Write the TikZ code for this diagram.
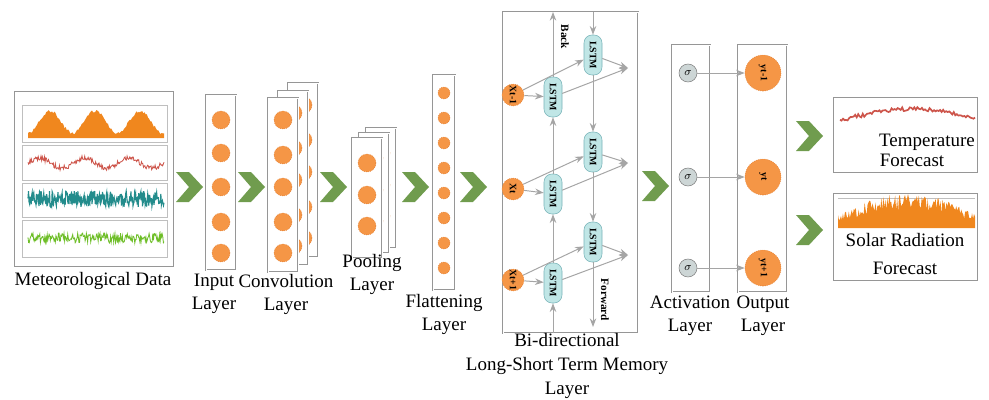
\documentclass[tikz,border=0pt]{standalone}
\usepackage{fontspec}
\setmainfont{Liberation Serif}
\usetikzlibrary{arrows.meta}

\definecolor{chevgreen}{RGB}{112,156,78}
\definecolor{dotorange}{RGB}{245,150,70}
\definecolor{dotedge}{RGB}{222,118,40}
\definecolor{boxgray}{RGB}{150,150,150}
\definecolor{lstmfill}{RGB}{192,230,230}
\definecolor{lstmedge}{RGB}{120,180,185}
\definecolor{sigfill}{RGB}{205,214,214}
\definecolor{arrgray}{RGB}{165,165,165}
\definecolor{tempred}{RGB}{205,85,75}
\definecolor{waveteal}{RGB}{35,140,140}
\definecolor{wavegreen}{RGB}{110,190,40}
\definecolor{solarorange}{RGB}{240,135,30}

\begin{document}
\begin{tikzpicture}[x=0.25mm, y=-0.25mm, >=Stealth,
  font=\fontsize{13.5}{16.4}\selectfont,
  layerbox/.style={draw=boxgray, double=white, double distance=0.6pt, line width=0.5pt, fill=white, inner sep=0pt},
  dot/.style={circle, fill=dotorange, draw=dotedge, densely dotted, minimum size=4.5mm, inner sep=0pt},
  smalldot/.style={dot, minimum size=3mm},
  xdot/.style={dot, minimum size=5.5mm, rotate=-90, font=\fontsize{7}{8}\selectfont\bfseries},
  ydot/.style={dot, minimum size=9mm, rotate=-90, font=\fontsize{7}{8}\selectfont\bfseries},
  lstm/.style={draw=lstmedge, fill=lstmfill, rounded corners=2mm, minimum width=10mm, minimum height=4.5mm,
    inner sep=0pt, rotate=-90, font=\fontsize{7}{8}\selectfont\bfseries},
  sig/.style={circle, draw=gray, fill=sigfill, minimum size=4.5mm, inner sep=0pt, font=\footnotesize},
  link/.style={->, draw=arrgray, line width=0.7pt},
  panel/.style={draw=gray!50, line width=0.4pt},
  chev/.pic={\fill[chevgreen] (-14,-15) -- (-1,-15) -- (13,0) -- (-1,15) -- (-14,15) -- (-1,0) -- cycle;}]
  \useasboundingbox (0,0) rectangle (989,399);
  \pgfmathsetseed{7}

  % meteorological data
  \node[draw=boxgray, line width=0.6pt, minimum width=39.75mm, minimum height=43.75mm] (met) at (93.5,179) {};
  \draw[panel] (22,105) rectangle (167,142);
  \draw[panel] (22,145) rectangle (167,180);
  \draw[panel] (22,183) rectangle (167,217);
  \draw[panel] (22,220) rectangle (167,257);
  \fill[solarorange] (28,138) -- plot[domain=28:164, samples=120] (\x,{122-11*cos((\x-50)*8)+1.5*rand}) -- (164,138) -- cycle;
  \draw[tempred, line width=0.6pt] plot[domain=28:164, samples=200] (\x,{163-5*sin((\x-28)*8)+2.5*rand});
  \draw[waveteal, line width=0.8pt] plot[domain=28:164, samples=260] (\x,{199+8*rand});
  \draw[wavegreen, line width=0.6pt] plot[domain=28:164, samples=220] (\x,{238+5*rand});
  \node (metlbl) at (93,281) {Meteorological Data};

  % green arrows between stages
  \foreach \cx/\cy in {190/187, 252/187, 334/187, 416/187, 474/187, 656/186, 810/136, 810/230}
    \pic at (\cx,\cy) {chev};

  % input layer
  \node[layerbox, minimum width=7.5mm, minimum height=43.75mm] (inp) at (221,182.5) {};
  \foreach \y [count=\i] in {120,153,187,222,253}
    \node[dot] (in\i) at (221,\y) {};
  \node[align=center] (inplbl) at (214,294) {Input\\Layer};

  % convolution layer (three maps)
  \foreach \dx/\dy/\nm in {20/-15/cb, 10/-7/cm, 0/0/cf} {
    \node[layerbox, minimum width=7.5mm, minimum height=43.5mm] (\nm) at (283+\dx,185+\dy) {};
    \foreach \y [count=\i] in {120,155,187,222,253}
      \node[dot] (\nm\i) at (283+\dx,\y+\dy) {};
  }
  \node[align=center] (convlbl) at (286,294) {Convolution\\Layer};

  % pooling layer
  \foreach \dx/\dy/\nm in {14/-10/pb, 7/-5/pm, 0/0/pf} {
    \node[layerbox, minimum width=7.5mm, minimum height=30mm] (\nm) at (367+\dx,198+\dy) {};
    \foreach \y [count=\i] in {163,195,226}
      \node[dot] (\nm\i) at (367+\dx,\y+\dy) {};
  }
  \node[align=center] (poollbl) at (372,274) {Pooling\\Layer};

  % flattening layer
  \node[layerbox, minimum width=5.5mm, minimum height=53.75mm] (flat) at (444,182.5) {};
  \foreach \i in {1,...,8}
    \node[smalldot] (fl\i) at (444,68+25*\i) {};
  \node[align=center] (flatlbl) at (444,314) {Flattening\\Layer};

  % bi-directional lstm
  \node[layerbox, minimum width=33.75mm, minimum height=80.25mm] (bil) at (570.5,172.5) {};
  \node[align=center, font=\fontsize{13.5}{17.2}\selectfont] (bilbl) at (567,366) {Bi-directional\\Long-Short Term Memory\\Layer};
  \node[xdot] (x1) at (513,95) {Xt-1};
  \node[xdot] (x2) at (513,189) {Xt};
  \node[xdot] (x3) at (513,280) {Xt+1};
  \node[lstm] (b1) at (553,97) {LSTM};
  \node[lstm] (b2) at (553,194) {LSTM};
  \node[lstm] (b3) at (553,283) {LSTM};
  \node[lstm] (f1) at (593,55) {LSTM};
  \node[lstm] (f2) at (593,152) {LSTM};
  \node[lstm] (f3) at (593,242) {LSTM};
  \coordinate (btop) at (553,12);
  \coordinate (bbot) at (553,333);
  \coordinate (ftop) at (593,12);
  \coordinate (fbot) at (593,327);
  \coordinate (m1) at (628,68);
  \coordinate (m2) at (628,163);
  \coordinate (m3) at (628,255);
  \draw[link] (bbot) -- (b3);
  \draw[link] (b3) -- (b2);
  \draw[link] (b2) -- (b1);
  \draw[link] (b1) -- (btop);
  \draw[link] (ftop) -- (f1);
  \draw[link] (f1) -- (f2);
  \draw[link] (f2) -- (f3);
  \draw[link] (f3) -- (fbot);
  \foreach \i in {1,2,3} {
    \draw[link] (x\i) -- (b\i);
    \draw[link] (x\i) -- (f\i);
    \draw[link] (b\i) -- (m\i);
    \draw[link] (f\i) -- (m\i);
  }
  \node[rotate=-90, font=\fontsize{8}{9}\selectfont\bfseries] (backlbl) at (565,37) {Back};
  \node[rotate=-90, font=\fontsize{8}{9}\selectfont\bfseries] (fwdlbl) at (605,300) {Forward};

  % activation and output layers
  \node[layerbox, minimum width=9.5mm, minimum height=61.75mm] (act) at (691,168.5) {};
  \node[layerbox, minimum width=12.25mm, minimum height=61.75mm] (out) at (762.5,168.5) {};
  \foreach \y/\t [count=\i] in {73/yt-1, 177/yt, 268/yt+1} {
    \node[sig] (s\i) at (688,\y) {$\sigma$};
    \node[ydot] (y\i) at (763,\y) {\t};
    \draw[link] (s\i) -- (y\i);
  }
  \node[align=center] (actlbl) at (690,316) {Activation\\Layer};
  \node[align=center] (outlbl) at (763,316) {Output\\Layer};

  % forecasts
  \node[draw=boxgray, line width=0.6pt, minimum width=36mm, minimum height=18.75mm] (temp) at (905,134.5) {};
  \draw[tempred, line width=1.2pt] plot[domain=840:975, samples=90] (\x,{121-12*sin((\x-838)*1.2)+2*rand});
  \node (templbl) at (927,142) {Temperature};
  \node (tempfc) at (912,160) {Forecast};
  \node[draw=boxgray, line width=0.6pt, minimum width=36mm, minimum height=21.75mm] (solar) at (905,236.5) {};
  \draw[gray!50] (838,198) -- (975,198);
  \fill[solarorange] (838,228) -- plot[domain=838:975, samples=140] (\x,{228-(10+16*sin((\x-838)*1.3))*(1+0.35*rand)}) -- (975,228) -- cycle;
  \node (solarlbl) at (905,240) {Solar Radiation};
  \node (solarfc) at (905,268) {Forecast};
\end{tikzpicture}
\end{document}
